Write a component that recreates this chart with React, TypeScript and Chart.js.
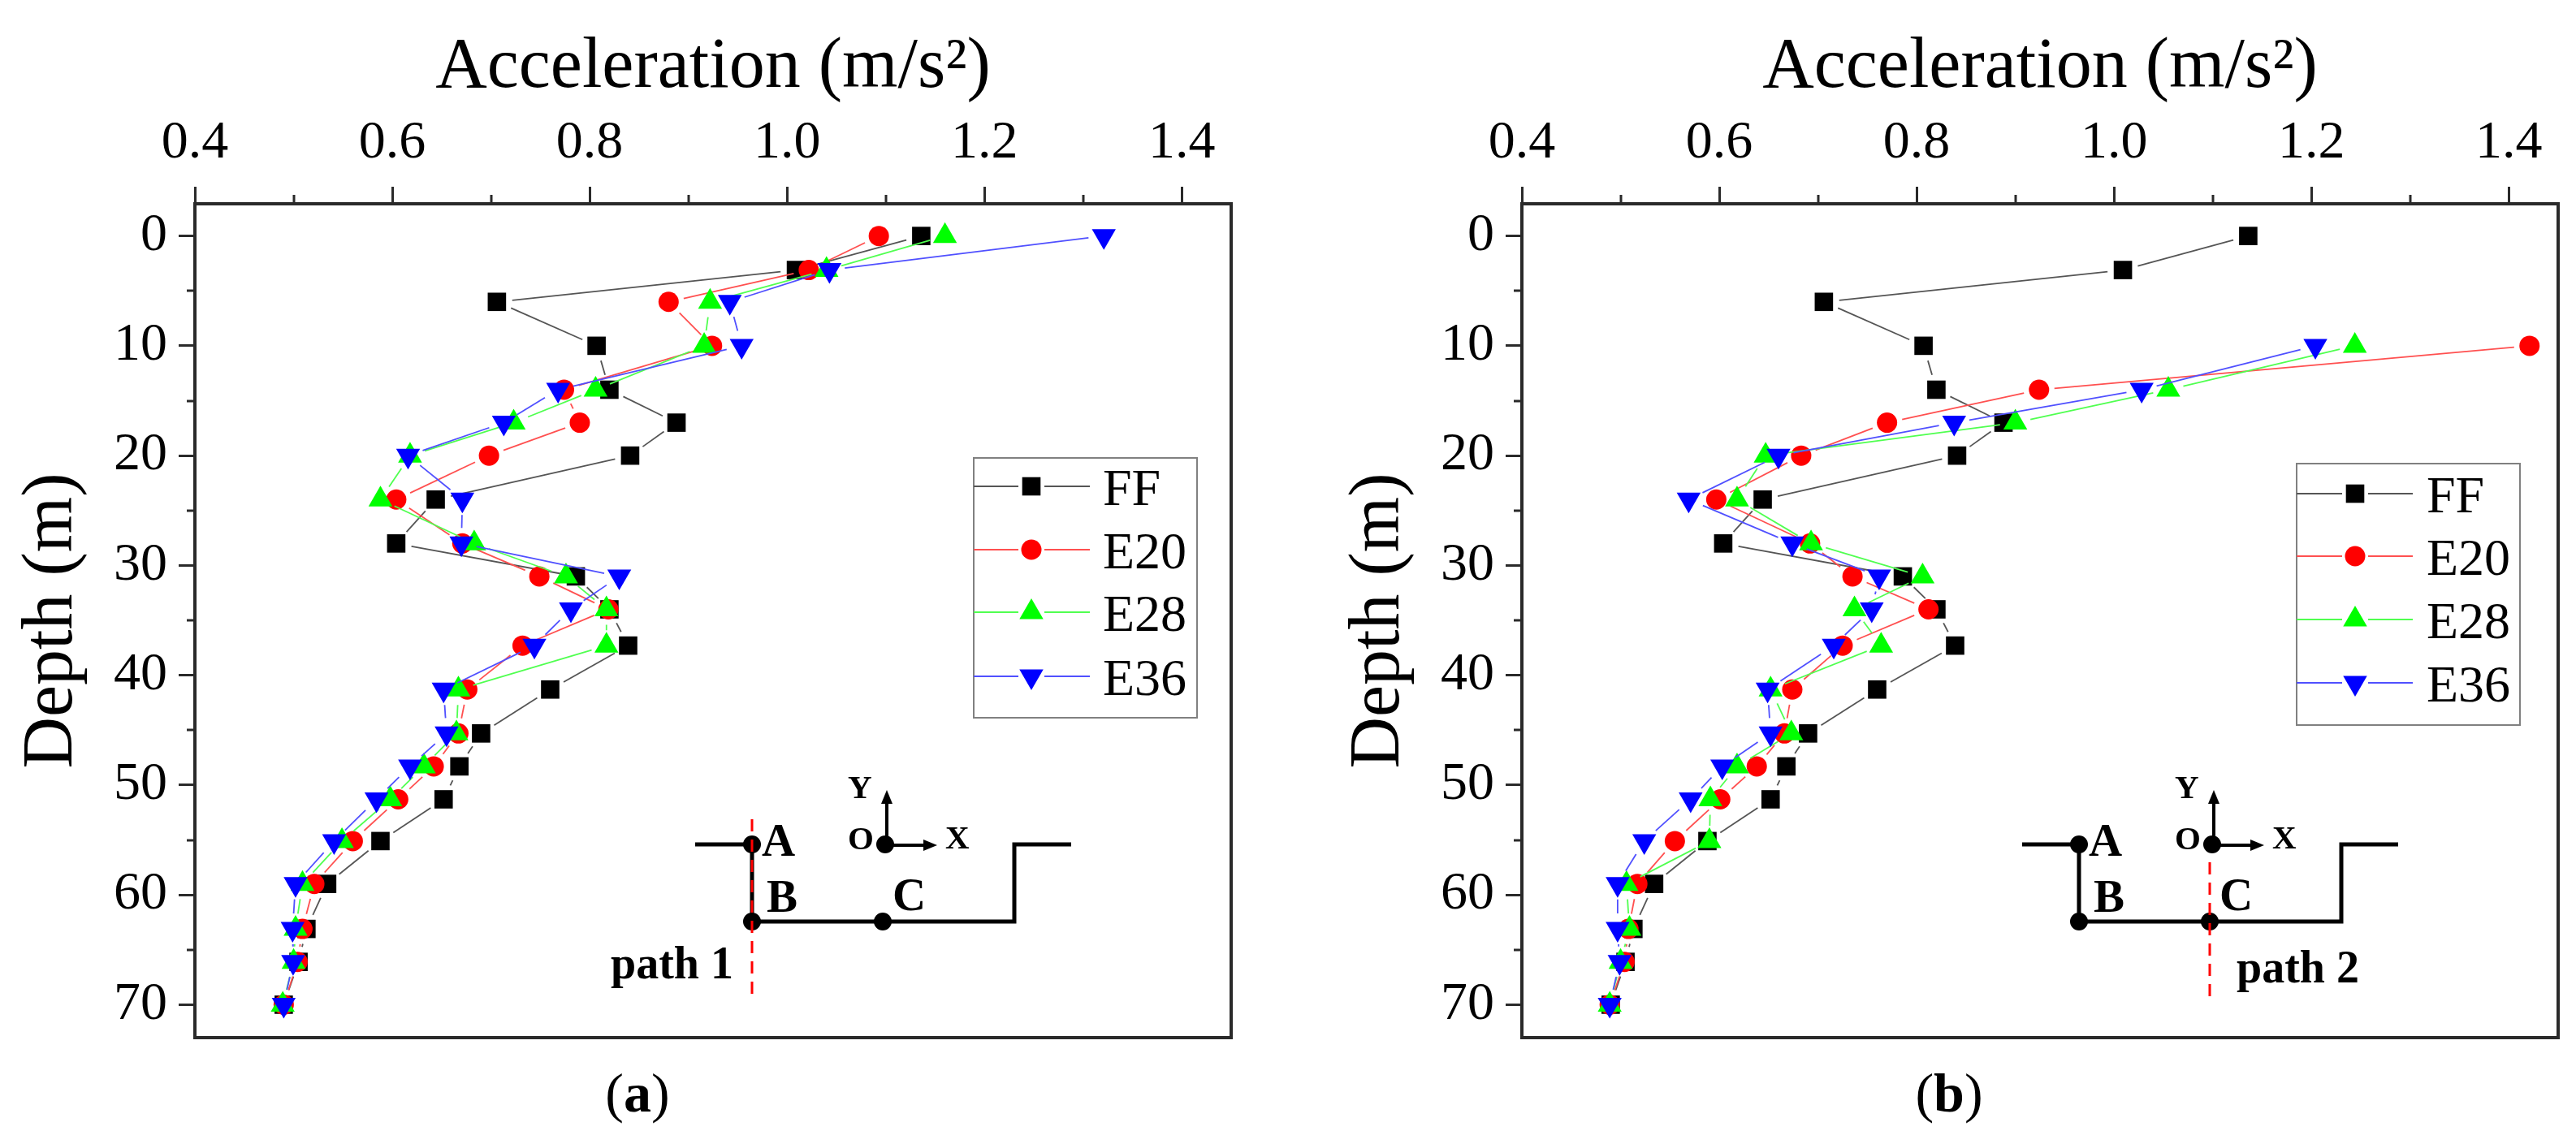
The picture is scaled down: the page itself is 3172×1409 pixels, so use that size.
import React, { useEffect, useRef } from "react";
import { Chart, registerables } from "chart.js";
import { drawPoint } from "chart.js/helpers";

Chart.register(...registerables);

const depthsAll = [0, 3.1, 6, 10, 14, 17, 20, 24, 28, 31, 34, 37.3, 41.3, 45.3, 48.3, 51.3, 55.1, 59, 63.1, 66.1, 70];
const depthsFrom10 = depthsAll.slice(3);

const seriesFF = [1.136, 1.009, 0.706, 0.807, 0.82, 0.888, 0.841, 0.644, 0.604, 0.786, 0.82, 0.839, 0.76, 0.69, 0.668, 0.652, 0.588, 0.534, 0.513, 0.505, 0.49];

const a_E20 = [1.093, 1.022, 0.88, 0.924, 0.774, 0.79, 0.698, 0.604, 0.671, 0.749, 0.819, 0.732, 0.676, 0.667, 0.642, 0.606, 0.56, 0.521, 0.509, 0.504, 0.49];
const a_E28 = [1.16, 1.04, 0.922, 0.916, 0.806, 0.723, 0.618, 0.588, 0.683, 0.776, 0.817, 0.817, 0.667, 0.665, 0.632, 0.598, 0.549, 0.509, 0.502, 0.5, 0.489];
const a_E36 = [1.321, 1.043, 0.942, 0.954, 0.768, 0.713, 0.616, 0.671, 0.67, 0.83, 0.781, 0.744, 0.652, 0.655, 0.618, 0.584, 0.541, 0.502, 0.499, 0.4995, 0.49];

const b_E20 = [1.421, 0.924, 0.77, 0.683, 0.597, 0.692, 0.735, 0.812, 0.725, 0.674, 0.666, 0.638, 0.601, 0.555, 0.517, 0.508, 0.504, 0.489];
const b_E28 = [1.244, 1.055, 0.9, 0.647, 0.618, 0.693, 0.806, 0.737, 0.764, 0.652, 0.673, 0.618, 0.591, 0.59, 0.506, 0.509, 0.5, 0.489];
const b_E36 = [1.204, 1.028, 0.838, 0.66, 0.569, 0.674, 0.762, 0.7545, 0.716, 0.649, 0.652, 0.603, 0.571, 0.524, 0.497, 0.497, 0.499, 0.489];

const xMinorTicks = [0.5, 0.7, 0.9, 1.1, 1.3];
const yMinorTicks = [5, 15, 25, 35, 45, 55, 65];
const seriesNames = ["FF", "E20", "E28", "E36"];
const xTitle = "Acceleration (m/s²)";
const yTitle = "Depth (m)";

const SERIF = "'Liberation Serif', 'Times New Roman', serif";
const FRAME = "#2a2a2a";
const GAP = 19;

const lineColors = ["#555555", "#ff5050", "#50ff50", "#5050ff"];
const fillColors = ["#000000", "#ff0000", "#00ff00", "#0000ff"];
const markerStyles = ["rect", "circle", "triangle", "triangle"];
const markerRadii = [16, 12.5, 17, 17];
const markerRotations = [0, 0, 0, 180];

const gappedDash = (ctx: any) => {
  const len = Math.hypot(ctx.p1.x - ctx.p0.x, ctx.p1.y - ctx.p0.y);
  if (len <= 2 * GAP) return [0, len + 1];
  return [0, GAP, len - 2 * GAP, GAP];
};

const makeDataset = (i: number, xs: number[], ys: number[]) => ({
  label: seriesNames[i],
  data: xs.map((x, k) => ({ x, y: ys[k] })),
  showLine: true,
  tension: 0,
  borderColor: lineColors[i],
  borderWidth: 1.8,
  backgroundColor: fillColors[i],
  pointBackgroundColor: fillColors[i],
  pointBorderWidth: 0,
  pointStyle: markerStyles[i],
  pointRadius: markerRadii[i],
  pointRotation: markerRotations[i],
  order: 3 - i,
  segment: { borderDash: gappedDash },
});

const text = (ctx: any, s: string, x: number, y: number, font: string, align = "left") => {
  ctx.font = font;
  ctx.textAlign = align;
  ctx.textBaseline = "alphabetic";
  ctx.fillStyle = "#000";
  ctx.fillText(s, x, y);
};

const arrowHead = (ctx: any, x: number, y: number, dx: number, dy: number) => {
  const s = 17;
  const w = 7;
  ctx.beginPath();
  ctx.moveTo(x, y);
  ctx.lineTo(x - dx * s + dy * w, y - dy * s + dx * w);
  ctx.lineTo(x - dx * s - dy * w, y - dy * s - dx * w);
  ctx.closePath();
  ctx.fill();
};

const dot = (ctx: any, x: number, y: number, r = 11) => {
  ctx.beginPath();
  ctx.arc(x, y, r, 0, Math.PI * 2);
  ctx.fill();
};

const decorPlugin = {
  id: "decor",
  afterDraw(chart: any, _args: any, opts: any) {
    const { ctx, chartArea: area, scales } = chart;
    ctx.save();

    // minor ticks
    ctx.strokeStyle = FRAME;
    ctx.lineWidth = 3;
    ctx.beginPath();
    xMinorTicks.forEach((v) => {
      const px = Math.round(scales.x.getPixelForValue(v));
      ctx.moveTo(px, area.top);
      ctx.lineTo(px, area.top - 11);
    });
    yMinorTicks.forEach((v) => {
      const py = Math.round(scales.y.getPixelForValue(v));
      ctx.moveTo(area.left, py);
      ctx.lineTo(area.left - 10, py);
    });
    ctx.stroke();

    // frame
    ctx.lineWidth = 4;
    ctx.strokeRect(area.left, area.top, area.right - area.left, area.bottom - area.top);

    // legend
    const lg = opts.legend;
    ctx.strokeStyle = "#808080";
    ctx.lineWidth = 2;
    ctx.strokeRect(lg.left, lg.top, lg.right - lg.left, lg.bottom - lg.top);
    seriesNames.forEach((name, i) => {
      const y = lg.rows[i];
      ctx.strokeStyle = lineColors[i];
      ctx.lineWidth = 2;
      ctx.beginPath();
      ctx.moveTo(lg.left, y);
      ctx.lineTo(lg.marker - 16, y);
      ctx.moveTo(lg.marker + 16, y);
      ctx.lineTo(lg.lineEnd, y);
      ctx.stroke();
      ctx.fillStyle = fillColors[i];
      ctx.strokeStyle = fillColors[i];
      drawPoint(ctx, { pointStyle: markerStyles[i], radius: markerRadii[i], rotation: markerRotations[i], borderWidth: 0 }, lg.marker, y);
      text(ctx, name, lg.textX, y + 23, `64px ${SERIF}`);
    });

    // schematic
    const o = opts.sketch;
    const top = 1040;
    const bed = 1135;
    ctx.strokeStyle = "#000";
    ctx.fillStyle = "#000";
    ctx.lineWidth = 5;
    ctx.lineJoin = "miter";
    ctx.beginPath();
    ctx.moveTo(o.left, top);
    ctx.lineTo(o.a, top);
    ctx.lineTo(o.a, bed);
    ctx.lineTo(o.wall, bed);
    ctx.lineTo(o.wall, top);
    ctx.lineTo(o.right, top);
    ctx.stroke();
    dot(ctx, o.a, top);
    dot(ctx, o.a, bed);
    dot(ctx, o.c, bed);
    dot(ctx, o.c + 3, top);
    ctx.lineWidth = 4;
    ctx.beginPath();
    ctx.moveTo(o.c + 5, top);
    ctx.lineTo(o.c + 5, 985);
    ctx.moveTo(o.c + 3, top + 1);
    ctx.lineTo(o.c + 55, top + 1);
    ctx.stroke();
    arrowHead(ctx, o.c + 5, 973, 0, -1);
    arrowHead(ctx, o.c + 67, top + 1, 1, 0);

    // red path line
    ctx.strokeStyle = "#ff0000";
    ctx.lineWidth = 3;
    ctx.setLineDash([15, 10]);
    ctx.beginPath();
    ctx.moveTo(o.dashX, o.dashTop);
    ctx.lineTo(o.dashX, 1227);
    ctx.stroke();
    ctx.setLineDash([]);

    const big = `bold 57px ${SERIF}`;
    const small = `bold 41px ${SERIF}`;
    text(ctx, "A", o.a + 12, 1054, big);
    text(ctx, "B", o.a + 18, 1123, big);
    text(ctx, "C", o.c + 12, 1121, big);
    text(ctx, "Y", o.c - 43, 983, small);
    text(ctx, "O", o.c - 43, 1046, small);
    text(ctx, "X", o.c + 77, 1045, small);
    text(ctx, opts.pathLabel, opts.pathX, opts.pathY, `bold 56px ${SERIF}`);

    // panel label
    const plain = `68px ${SERIF}`;
    const bold = `bold 68px ${SERIF}`;
    ctx.font = plain;
    const pw = ctx.measureText("(").width;
    const pw2 = ctx.measureText(")").width;
    ctx.font = bold;
    const lw = ctx.measureText(opts.panel).width;
    const x0 = opts.panelX - (pw + lw + pw2) / 2;
    text(ctx, "(", x0, 1369, plain);
    text(ctx, opts.panel, x0 + pw, 1369, bold);
    text(ctx, ")", x0 + pw + lw, 1369, plain);

    ctx.restore();
  },
};

const makeOptions = (rightPad: number, decor: any) => ({
  responsive: false,
  animation: false as const,
  devicePixelRatio: 1,
  layout: { padding: { left: 0, top: 0, right: rightPad, bottom: 131 } },
  plugins: {
    legend: { display: false },
    tooltip: { enabled: false },
    decor,
  },
  scales: {
    x: {
      type: "linear" as const,
      position: "top" as const,
      min: 0.4,
      max: 1.45,
      afterFit: (s: any) => {
        s.height = 251;
      },
      title: {
        display: true,
        text: xTitle,
        color: "#000",
        font: { family: SERIF, size: 88 },
        padding: { top: 31, bottom: 0 },
      },
      ticks: {
        stepSize: 0.2,
        includeBounds: false,
        autoSkip: false,
        maxRotation: 0,
        minRotation: 0,
        color: "#000",
        padding: 14,
        font: { family: SERIF, size: 66 },
        callback: (v: any) => Number(v).toFixed(1),
      },
      border: { display: true, color: FRAME, width: 4 },
      grid: { drawOnChartArea: false, drawTicks: true, tickLength: 21, tickColor: FRAME, tickWidth: 3 },
    },
    y: {
      type: "linear" as const,
      position: "left" as const,
      reverse: true,
      min: -2.93,
      max: 73,
      afterFit: (s: any) => {
        s.width = 240;
      },
      title: {
        display: true,
        text: yTitle,
        color: "#000",
        font: { family: SERIF, size: 88 },
        padding: { top: 12, bottom: 0 },
      },
      ticks: {
        stepSize: 10,
        includeBounds: false,
        autoSkip: false,
        color: "#000",
        padding: 14,
        font: { family: SERIF, size: 66 },
        callback: (v: any) => String(v),
      },
      border: { display: true, color: FRAME, width: 4 },
      grid: { drawOnChartArea: false, drawTicks: true, tickLength: 20, tickColor: FRAME, tickWidth: 3 },
    },
  },
});

const useChart = (build: (el: HTMLCanvasElement) => Chart) => {
  const ref = useRef<HTMLCanvasElement | null>(null);
  useEffect(() => {
    const chart = build(ref.current as HTMLCanvasElement);
    return () => chart.destroy();
  }, []);
  return ref;
};

export default function App() {
  const refA = useChart(
    (el) =>
      new Chart(el, {
        type: "scatter",
        data: {
          datasets: [
            makeDataset(0, seriesFF, depthsAll),
            makeDataset(1, a_E20, depthsAll),
            makeDataset(2, a_E28, depthsAll),
            makeDataset(3, a_E36, depthsAll),
          ],
        },
        options: makeOptions(118, {
          panel: "a",
          panelX: 785,
          pathLabel: "path 1",
          pathX: 752,
          pathY: 1205,
          legend: { left: 1199, right: 1474, top: 564, bottom: 884, rows: [599, 677, 754, 833], marker: 1270, lineEnd: 1342, textX: 1358 },
          sketch: { left: 856, a: 926, c: 1087, wall: 1249, right: 1319, dashX: 926, dashTop: 1009 },
        }) as any,
        plugins: [decorPlugin],
      })
  );
  const refB = useChart(
    (el) =>
      new Chart(el, {
        type: "scatter",
        data: {
          datasets: [
            makeDataset(0, seriesFF, depthsAll),
            makeDataset(1, b_E20, depthsFrom10),
            makeDataset(2, b_E28, depthsFrom10),
            makeDataset(3, b_E36, depthsFrom10),
          ],
        },
        options: makeOptions(22, {
          panel: "b",
          panelX: 766,
          pathLabel: "path 2",
          pathX: 1120,
          pathY: 1210,
          legend: { left: 1194, right: 1469, top: 571, bottom: 893, rows: [608, 685, 763, 841], marker: 1266, lineEnd: 1337, textX: 1354 },
          sketch: { left: 856, a: 926, c: 1087, wall: 1249, right: 1319, dashX: 1087, dashTop: 1062 },
        }) as any,
        plugins: [decorPlugin],
      })
  );
  return (
    <div style={{ position: "absolute", left: 0, top: 0, width: 3172, height: 1409, background: "#fff" }}>
      <canvas ref={refA} width={1634} height={1409} style={{ position: "absolute", left: 0, top: 0, width: 1634, height: 1409 }} />
      <canvas ref={refB} width={1538} height={1409} style={{ position: "absolute", left: 1634, top: 0, width: 1538, height: 1409 }} />
    </div>
  );
}
